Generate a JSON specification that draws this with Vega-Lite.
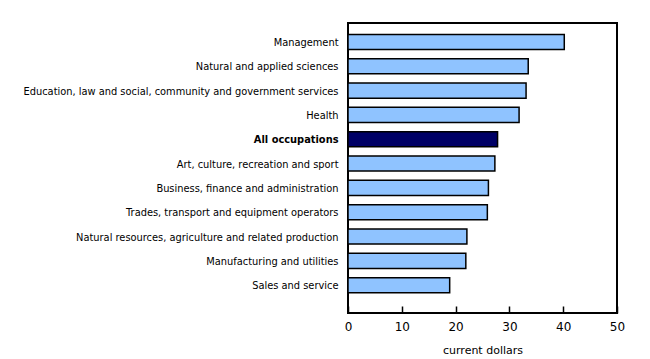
{
  "$schema": "https://vega.github.io/schema/vega-lite/v6.json",
  "width": 269,
  "height": 290,
  "autosize": {"type": "none"},
  "padding": {"left": 348, "top": 23, "right": 33, "bottom": 46},
  "background": "white",
  "config": {
    "view": {"stroke": "black", "strokeWidth": 2},
    "font": "DejaVu Sans"
  },
  "data": {
    "values": [
      {"occupation": "Management", "value": 40.2, "group": "occ"},
      {"occupation": "Natural and applied sciences", "value": 33.5, "group": "occ"},
      {"occupation": "Education, law and social, community and government services", "value": 33.1, "group": "occ"},
      {"occupation": "Health", "value": 31.8, "group": "occ"},
      {"occupation": "All occupations", "value": 27.8, "group": "all"},
      {"occupation": "Art, culture, recreation and sport", "value": 27.3, "group": "occ"},
      {"occupation": "Business, finance and administration", "value": 26.1, "group": "occ"},
      {"occupation": "Trades, transport and equipment operators", "value": 25.9, "group": "occ"},
      {"occupation": "Natural resources, agriculture and related production", "value": 22.1, "group": "occ"},
      {"occupation": "Manufacturing and utilities", "value": 21.9, "group": "occ"},
      {"occupation": "Sales and service", "value": 18.9, "group": "occ"}
    ]
  },
  "mark": {"type": "bar", "stroke": "black", "strokeWidth": 1.5},
  "encoding": {
    "y": {
      "field": "occupation",
      "type": "nominal",
      "sort": null,
      "scale": {"paddingInner": 0.38, "paddingOuter": 0.65, "align": 0.36},
      "axis": {
        "title": null,
        "ticks": false,
        "domain": false,
        "labelFontSize": 9.85,
        "labelColor": "black",
        "labelPadding": 10,
        "labelOffset": 1,
        "labelLimit": 400,
        "labelFontWeight": {"condition": {"test": "datum.value == 'All occupations'", "value": "bold"}, "value": "normal"}
      }
    },
    "x": {
      "field": "value",
      "type": "quantitative",
      "scale": {"domain": [0, 50], "nice": false},
      "axis": {
        "title": "current dollars",
        "titleFontSize": 11,
        "titleFontWeight": "normal",
        "titleColor": "black",
        "titlePadding": 12,
        "values": [0, 10, 20, 30, 40, 50],
        "grid": false,
        "domain": false,
        "tickSize": -7,
        "tickColor": "black",
        "tickWidth": 1.5,
        "labelFontSize": 12,
        "labelColor": "black",
        "labelPadding": 15,
        "labelFlush": false
      }
    },
    "color": {
      "field": "group",
      "type": "nominal",
      "scale": {"domain": ["occ", "all"], "range": ["#8FC3FF", "#000066"]},
      "legend": null
    }
  }
}
